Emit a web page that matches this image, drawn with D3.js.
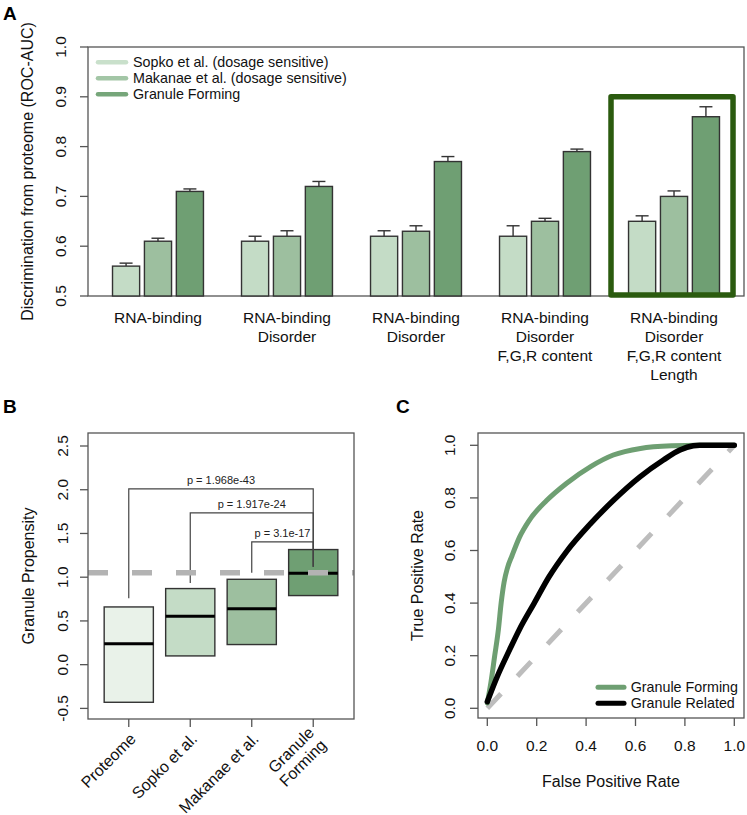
<!DOCTYPE html>
<html>
<head>
<meta charset="utf-8">
<script src="https://cdn.jsdelivr.net/npm/d3@7"></script>
<style>
  html, body { margin: 0; padding: 0; background: #fff; }
  svg { display: block; font-family: "Liberation Sans", Arial, Helvetica, sans-serif; }
</style>
</head>
<body>
<svg id="chart" width="747" height="815"></svg>
<script>
// ---------- Panel A data ----------
const groupLabels = [
  ["RNA-binding"],
  ["RNA-binding", "Disorder"],
  ["RNA-binding", "Disorder"],
  ["RNA-binding", "Disorder", "F,G,R content"],
  ["RNA-binding", "Disorder", "F,G,R content", "Length"]
];
const seriesNames = ["Sopko et al. (dosage sensitive)", "Makanae et al. (dosage sensitive)", "Granule Forming"];
const sopkoAUC   = [0.56, 0.61, 0.62, 0.62, 0.65];
const sopkoErr   = [0.006, 0.010, 0.011, 0.021, 0.011];
const makanaeAUC = [0.61, 0.62, 0.63, 0.65, 0.70];
const makanaeErr = [0.006, 0.011, 0.011, 0.006, 0.011];
const granuleAUC = [0.71, 0.72, 0.77, 0.79, 0.86];
const granuleErr = [0.005, 0.010, 0.010, 0.005, 0.020];
const aTicks = [0.5, 0.6, 0.7, 0.8, 0.9, 1.0];
const highlightGroup = 4;
const highlightTop = 0.9;

// ---------- Panel B data ----------
const boxCats   = ["Proteome", "Sopko et al.", "Makanae et al.", "Granule\nForming"];
const boxQ1     = [-0.43, 0.10, 0.23, 0.79];
const boxMedian = [0.24, 0.553, 0.64, 1.045];
const boxQ3     = [0.66, 0.87, 0.976, 1.316];
const bTicks    = [-0.5, 0.0, 0.5, 1.0, 1.5, 2.0, 2.5];
const refLine   = 1.05;
const compFrom   = [0, 1, 2];
const compTo     = [3, 3, 3];
const compHeight = [2.01, 1.735, 1.403];
const compLegLow = [0.76, 0.935, 1.05];
const compTargetLow = 1.12;
const compLabels = ["p = 1.968e-43", "p = 1.917e-24", "p = 3.1e-17"];

// ---------- Panel C data ----------
const rocFprForming = [0, 0.015, 0.03, 0.045, 0.056, 0.068, 0.082, 0.10, 0.13, 0.17, 0.24, 0.32, 0.42, 0.51, 0.62, 0.75, 0.85, 1.0];
const rocTprForming = [0.02, 0.10, 0.20, 0.30, 0.40, 0.48, 0.535, 0.58, 0.65, 0.715, 0.79, 0.855, 0.92, 0.963, 0.988, 0.998, 1.0, 1.0];
const rocFprRelated = [0, 0.04, 0.09, 0.13, 0.19, 0.25, 0.32, 0.416, 0.51, 0.618, 0.713, 0.78, 0.834, 0.86, 1.0];
const rocTprRelated = [0.025, 0.12, 0.222, 0.30, 0.40, 0.50, 0.595, 0.70, 0.79, 0.88, 0.944, 0.982, 0.998, 1.0, 1.0];
const cTicks = [0.0, 0.2, 0.4, 0.6, 0.8, 1.0];
const rocNames = ["Granule Forming", "Granule Related"];

// ---------- styles ----------
const barColors = ["#c4dcc6", "#9dbf9f", "#6f9f73"];
const legColors = ["#c9e0cb", "#a3c6a6", "#76a67a"];
const boxColors = ["#e9f2e9", "#c4dcc6", "#9dbf9f", "#6f9f73"];
const axisCol = "#555";
const fs = 15.5;
const fsTitle = 16;
const fmt1 = v => d3.format(".1f")(v).replace("\u2212", "-");

const svg = d3.select("#chart");

function yTickLabelsRotated(g, scale, ticks, x) {
  ticks.forEach(t => {
    g.append("text")
      .attr("transform", `translate(${x},${scale(t)}) rotate(-90)`)
      .attr("text-anchor", "middle").attr("dy", "0.35em")
      .attr("font-size", fs).attr("fill", "#111")
      .text(fmt1(t));
  });
}

// ================= Panel A =================
(function () {
  const L = 88, R = 744, T = 47, B = 296;
  const y = d3.scaleLinear().domain([0.5, 1.0]).range([B, T]);
  const x0 = d3.scaleBand().domain(d3.range(groupLabels.length)).range([L, R])
    .paddingInner(0.295).paddingOuter(0.19);
  const x1 = d3.scaleBand().domain([0, 1, 2]).range([0, x0.bandwidth()]).paddingInner(0.15);
  const g = svg.append("g");
  const series = [
    { v: sopkoAUC, e: sopkoErr },
    { v: makanaeAUC, e: makanaeErr },
    { v: granuleAUC, e: granuleErr }
  ];
  svg.append("text").attr("x", 3).attr("y", 20).attr("font-size", 19).attr("font-weight", "bold").text("A");

  g.append("rect").attr("x", L).attr("y", T).attr("width", R - L).attr("height", B - T)
    .attr("fill", "none").attr("stroke", axisCol).attr("stroke-width", 1.3);
  aTicks.forEach(t => {
    g.append("line").attr("x1", L - 8).attr("x2", L).attr("y1", y(t)).attr("y2", y(t))
      .attr("stroke", axisCol).attr("stroke-width", 1.3);
  });
  yTickLabelsRotated(g, y, aTicks, 61);
  g.append("text").attr("transform", `translate(27,${(T + B) / 2}) rotate(-90)`)
    .attr("text-anchor", "middle").attr("dy", "0.35em").attr("font-size", fsTitle).attr("fill", "#111")
    .text("Discrimination from proteome (ROC-AUC)");

  groupLabels.forEach((lab, gi) => {
    series.forEach((s, si) => {
      const bx = x0(gi) + x1(si), bw = x1.bandwidth();
      g.append("rect").attr("x", bx).attr("y", y(s.v[gi])).attr("width", bw)
        .attr("height", y(0.5) - y(s.v[gi])).attr("fill", barColors[si])
        .attr("stroke", "#333").attr("stroke-width", 1.4);
      const cx = bx + bw / 2, top = y(s.v[gi] + s.e[gi]);
      g.append("line").attr("x1", cx).attr("x2", cx).attr("y1", y(s.v[gi])).attr("y2", top)
        .attr("stroke", "#333").attr("stroke-width", 1.4);
      g.append("line").attr("x1", cx - 6.5).attr("x2", cx + 6.5).attr("y1", top).attr("y2", top)
        .attr("stroke", "#333").attr("stroke-width", 1.4);
    });
    const t = g.append("text").attr("text-anchor", "middle").attr("font-size", fs).attr("fill", "#111");
    lab.forEach((line, li) => {
      t.append("tspan").attr("x", x0(gi) + x0.bandwidth() / 2).attr("y", 322.5 + li * 19.3).text(line);
    });
  });

  const hx0 = x0(highlightGroup) - (x0.step() - x0.bandwidth()) / 2 + 1.5;
  const hx1 = x0(highlightGroup) + x0.bandwidth() + (x0.step() - x0.bandwidth()) / 2 - 5.5;
  g.append("rect").attr("x", hx0).attr("y", y(highlightTop))
    .attr("width", hx1 - hx0).attr("height", y(0.5) - y(highlightTop) - 1)
    .attr("fill", "none").attr("stroke", "#2b5b0f").attr("stroke-width", 5.5)
    .attr("stroke-linejoin", "round");

  seriesNames.forEach((n, i) => {
    const ly = 62.3 + i * 16;
    g.append("line").attr("x1", 98).attr("x2", 126).attr("y1", ly).attr("y2", ly)
      .attr("stroke", legColors[i]).attr("stroke-width", 4.5).attr("stroke-linecap", "round");
    g.append("text").attr("x", 133).attr("y", ly).attr("dy", "0.35em")
      .attr("font-size", 14.3).attr("fill", "#111").text(n);
  });
})();

// ================= Panel B =================
(function () {
  const L = 88, R = 354, T = 433, B = 719;
  const y = d3.scaleLinear().domain([-0.5, 2.5]).range([708.4, 446]);
  const x = d3.scalePoint().domain(d3.range(boxCats.length)).range([L, R]).padding(0.663);
  const bw = x.step() * 0.8;
  const g = svg.append("g");
  svg.append("text").attr("x", 3).attr("y", 413).attr("font-size", 19).attr("font-weight", "bold").text("B");

  g.append("defs").append("clipPath").attr("id", "clipB")
    .append("rect").attr("x", L).attr("y", T).attr("width", R - L).attr("height", B - T);

  boxCats.forEach((c, i) => {
    g.append("rect").attr("x", x(i) - bw / 2).attr("y", y(boxQ3[i])).attr("width", bw)
      .attr("height", y(boxQ1[i]) - y(boxQ3[i])).attr("fill", boxColors[i])
      .attr("stroke", "#333").attr("stroke-width", 1.4);
    g.append("line").attr("x1", x(i) - bw / 2).attr("x2", x(i) + bw / 2)
      .attr("y1", y(boxMedian[i])).attr("y2", y(boxMedian[i]))
      .attr("stroke", "#000").attr("stroke-width", 3);
  });

  compFrom.forEach((f, k) => {
    const xf = x(f), xt = x(compTo[k]), yh = y(compHeight[k]);
    g.append("path")
      .attr("d", `M${xf},${y(compLegLow[k])}V${yh}H${xt}V${y(compTargetLow)}`)
      .attr("fill", "none").attr("stroke", "#444").attr("stroke-width", 1.2);
    g.append("text").attr("x", (xf + xt) / 2).attr("y", yh - 5)
      .attr("text-anchor", "middle").attr("font-size", 11).attr("fill", "#222")
      .text(compLabels[k]);
  });

  g.append("line").attr("clip-path", "url(#clipB)")
    .attr("x1", L).attr("x2", R).attr("y1", y(refLine)).attr("y2", y(refLine))
    .attr("stroke", "#b3b3b3").attr("stroke-width", 5.5).attr("stroke-dasharray", "20 24");

  g.append("rect").attr("x", L).attr("y", T).attr("width", R - L).attr("height", B - T)
    .attr("fill", "none").attr("stroke", axisCol).attr("stroke-width", 1.3);
  bTicks.forEach(t => {
    g.append("line").attr("x1", L - 8).attr("x2", L).attr("y1", y(t)).attr("y2", y(t))
      .attr("stroke", axisCol).attr("stroke-width", 1.3);
  });
  yTickLabelsRotated(g, y, bTicks, 63);
  g.append("text").attr("transform", `translate(28,${(T + B) / 2}) rotate(-90)`)
    .attr("text-anchor", "middle").attr("dy", "0.35em").attr("font-size", fsTitle).attr("fill", "#111")
    .text("Granule Propensity");

  boxCats.forEach((c, i) => {
    g.append("line").attr("x1", x(i)).attr("x2", x(i)).attr("y1", B).attr("y2", B + 8)
      .attr("stroke", axisCol).attr("stroke-width", 1.3);
    const lines = c.split("\n");
    const t = g.append("text").attr("transform", `translate(${x(i) + 4},${736}) rotate(-45)`)
      .attr("text-anchor", "end").attr("font-size", 16).attr("fill", "#111");
    lines.forEach((ln, li) => {
      const off = (li - (lines.length - 1) / 2) * 17.5;
      t.append("tspan").attr("x", 0).attr("y", off).attr("dy", "0.35em").text(ln);
    });
  });
})();

// ================= Panel C =================
(function () {
  const L = 478, R = 744, T = 433, B = 718;
  const x = d3.scaleLinear().domain([0, 1]).range([487.3, 734.3]);
  const y = d3.scaleLinear().domain([0, 1]).range([708.3, 445.3]);
  const g = svg.append("g");
  svg.append("text").attr("x", 396).attr("y", 413).attr("font-size", 19).attr("font-weight", "bold").text("C");

  g.append("line").attr("x1", x(0)).attr("y1", y(0)).attr("x2", x(1)).attr("y2", y(1))
    .attr("stroke", "#bdbdbd").attr("stroke-width", 5).attr("stroke-dasharray", "20 24");

  const line = d3.line().x(d => x(d[0])).y(d => y(d[1])).curve(d3.curveMonotoneX);
  g.append("path").datum(rocFprForming.map((v, i) => [v, rocTprForming[i]]))
    .attr("d", line).attr("fill", "none").attr("stroke", "#6e9f72").attr("stroke-width", 5)
    .attr("stroke-linecap", "round").attr("stroke-linejoin", "round");
  g.append("path").datum(rocFprRelated.map((v, i) => [v, rocTprRelated[i]]))
    .attr("d", line).attr("fill", "none").attr("stroke", "#000").attr("stroke-width", 5.5)
    .attr("stroke-linecap", "round").attr("stroke-linejoin", "round");

  g.append("rect").attr("x", L).attr("y", T).attr("width", R - L).attr("height", B - T)
    .attr("fill", "none").attr("stroke", axisCol).attr("stroke-width", 1.3);
  cTicks.forEach(t => {
    g.append("line").attr("x1", L - 8).attr("x2", L).attr("y1", y(t)).attr("y2", y(t))
      .attr("stroke", axisCol).attr("stroke-width", 1.3);
    g.append("line").attr("x1", x(t)).attr("x2", x(t)).attr("y1", B).attr("y2", B + 8)
      .attr("stroke", axisCol).attr("stroke-width", 1.3);
    g.append("text").attr("x", x(t)).attr("y", 746).attr("dy", "0.35em")
      .attr("text-anchor", "middle").attr("font-size", fs).attr("fill", "#111")
      .text(fmt1(t));
  });
  yTickLabelsRotated(g, y, cTicks, 450);
  g.append("text").attr("x", (L + R) / 2).attr("y", 781.7).attr("dy", "0.35em")
    .attr("text-anchor", "middle").attr("font-size", fsTitle).attr("fill", "#111").text("False Positive Rate");
  g.append("text").attr("transform", `translate(417,${(T + B) / 2}) rotate(-90)`)
    .attr("text-anchor", "middle").attr("dy", "0.35em").attr("font-size", fsTitle).attr("fill", "#111")
    .text("True Positive Rate");

  const lc = ["#6e9f72", "#000"];
  rocNames.forEach((n, i) => {
    const ly = 687.3 + i * 16;
    g.append("line").attr("x1", 598).attr("x2", 624).attr("y1", ly).attr("y2", ly)
      .attr("stroke", lc[i]).attr("stroke-width", 5).attr("stroke-linecap", "round");
    g.append("text").attr("x", 630.7).attr("y", ly).attr("dy", "0.35em")
      .attr("font-size", 14.3).attr("fill", "#111").text(n);
  });
})();
</script>
</body>
</html>
